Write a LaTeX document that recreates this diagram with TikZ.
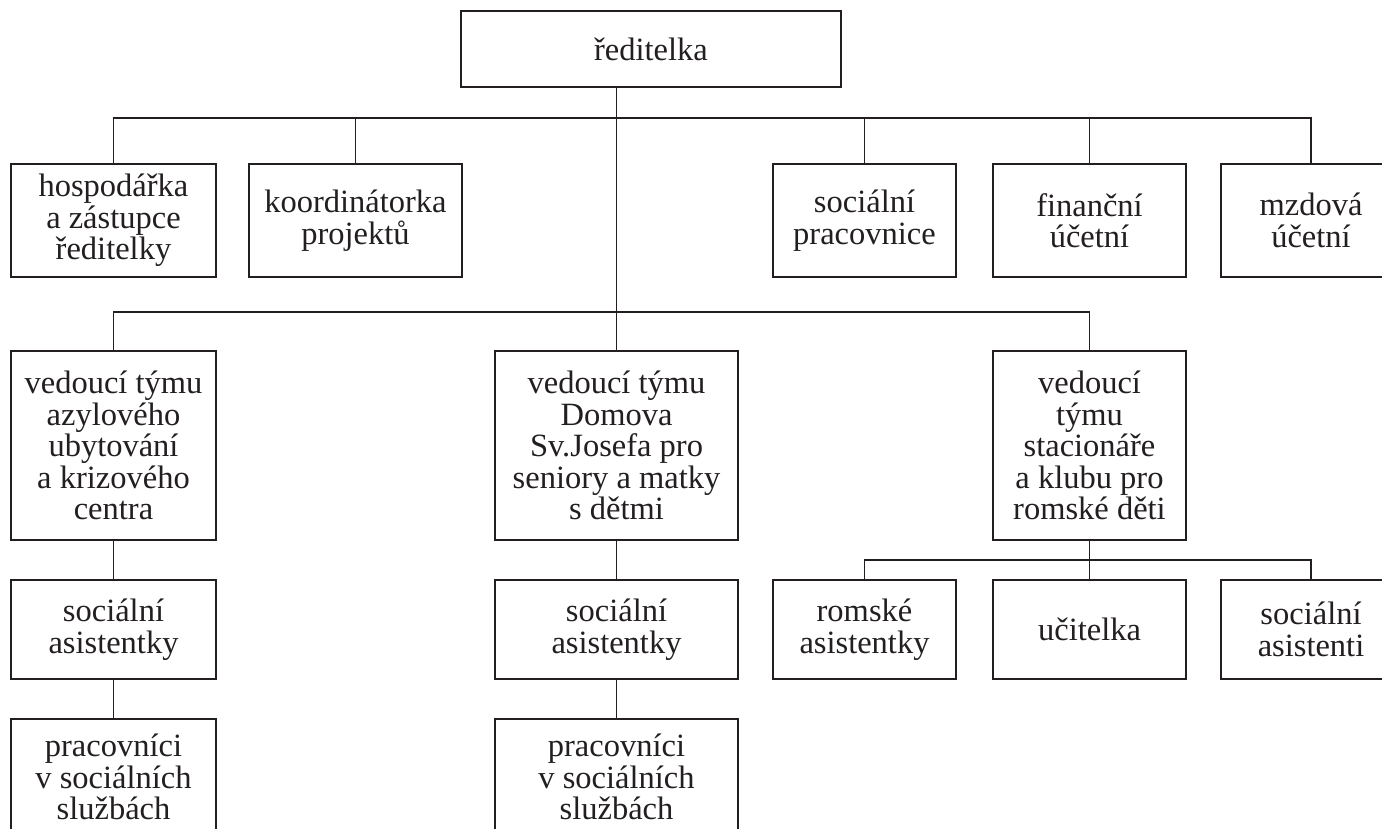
\documentclass[tikz,border=0pt]{standalone}
\usepackage{fontspec}
\setmainfont{Liberation Serif}
\definecolor{ink}{HTML}{231F20}
\begin{document}
\begin{tikzpicture}[x=1pt,y=-1pt,
  box/.style={draw=ink, line width=2.2pt, inner sep=0pt, align=center, text=ink,
    font=\fontsize{32.5}{31.5}\selectfont},
  conn/.style={draw=ink, line width=1.9pt}]
\clip (0,0) rectangle (1382,828);
\fill[white] (0,0) rectangle (1382,828);
% top
\node[box, minimum width=380pt, minimum height=76pt] (top) at (651,49) {ředitelka};
% row 1
\node[box, minimum width=205pt, minimum height=113pt] (hosp) at (113.5,220.5) {hospodářka\\a zástupce\\ředitelky};
\node[box, minimum width=213pt, minimum height=113pt] (koord) at (355.5,220.5) {koordinátorka\\projektů};
\node[box, minimum width=183pt, minimum height=113pt] (socp) at (864.5,220.5) {sociální\\pracovnice};
\node[box, minimum width=193pt, minimum height=113pt] (fin) at (1089.5,220.5) {finanční\\účetní};
\node[box, minimum width=180pt, minimum height=113pt] (mzd) at (1311,220.5) {mzdová\\účetní};
% row 2
\node[box, minimum width=205pt, minimum height=189pt] (azyl) at (113.5,445.5) {vedoucí týmu\\azylového\\ubytování\\a krizového\\centra};
\node[box, minimum width=243pt, minimum height=189pt] (dom) at (616.5,445.5) {vedoucí týmu\\Domova\\Sv.Josefa pro\\seniory a matky\\s dětmi};
\node[box, minimum width=193pt, minimum height=189pt] (stac) at (1089.5,445.5) {vedoucí\\týmu\\stacionáře\\a klubu pro\\romské děti};
% row 3
\node[box, minimum width=205pt, minimum height=99pt] (asA) at (113.5,629.5) {sociální\\asistentky};
\node[box, minimum width=243pt, minimum height=99pt] (asB) at (616.5,629.5) {sociální\\asistentky};
\node[box, minimum width=183pt, minimum height=99pt] (rom) at (864.5,629.5) {romské\\asistentky};
\node[box, minimum width=193pt, minimum height=99pt] (uc) at (1089.5,629.5) {učitelka};
\node[box, minimum width=180pt, minimum height=99pt] (sasi) at (1311,629.5) {sociální\\asistenti};
% row 4
\node[box, minimum width=205pt, minimum height=116pt] (prA) at (113.5,777) {pracovníci\\v sociálních\\službách};
\node[box, minimum width=243pt, minimum height=116pt] (prB) at (616.5,777) {pracovníci\\v sociálních\\službách};
% buses
\coordinate (bus1) at (0,118);
\coordinate (bus2) at (0,312);
\coordinate (bus3) at (0,560);
% connectors
\draw[conn] (top.south -| dom.north) -- (dom.north);
\draw[conn] (hosp.north) -- (hosp.north |- bus1) -- (mzd.north |- bus1) -- (mzd.north);
\draw[conn] (koord.north) -- (koord.north |- bus1);
\draw[conn] (socp.north) -- (socp.north |- bus1);
\draw[conn] (fin.north) -- (fin.north |- bus1);
\draw[conn] (azyl.north) -- (azyl.north |- bus2) -- (stac.north |- bus2) -- (stac.north);
\draw[conn] (azyl.south) -- (asA.north);
\draw[conn] (asA.south) -- (prA.north);
\draw[conn] (dom.south) -- (asB.north);
\draw[conn] (asB.south) -- (prB.north);
\draw[conn] (stac.south) -- (uc.north);
\draw[conn] (rom.north) -- (rom.north |- bus3) -- (sasi.north |- bus3) -- (sasi.north);
\end{tikzpicture}
\end{document}
